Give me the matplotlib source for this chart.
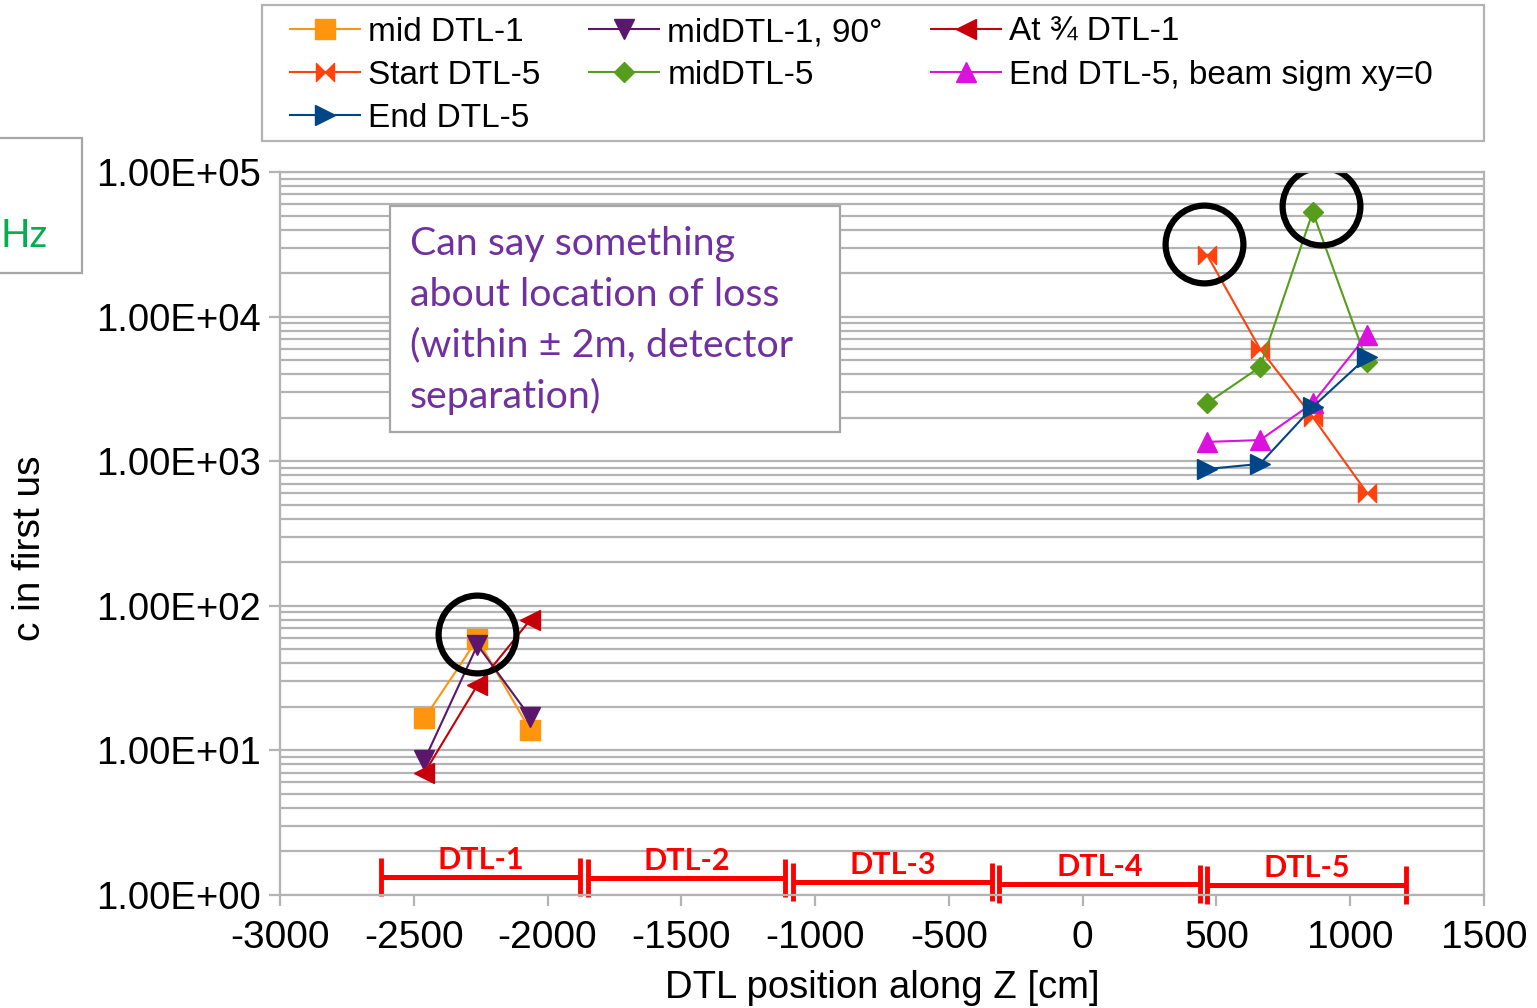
import matplotlib.pyplot as plt
import numpy as np
from matplotlib.path import Path
from matplotlib.patches import Rectangle

# positions along the DTL [cm]
z_dtl1 = [-2460, -2262, -2065]
z_dtl5 = [465, 663, 860, 1063]

# counts in first us
mid_dtl1 = [16.7, 58.9, 13.8]
mid_dtl1_90 = [8.6, 53.6, 17.0]
at34_dtl1 = [7.0, 28.3, 79.8]
start_dtl5 = [26700, 5970, 2020, 603]
mid_dtl5 = [2520, 4480, 52800, 4850]
end_dtl5_sig0 = [1360, 1400, 2520, 7470]
end_dtl5 = [883, 958, 2370, 5260]

# DTL tanks: (name, z start, z end, drawn height)
tanks = [
    ("DTL-1", -2622, -1879, 1.33),
    ("DTL-2", -1849, -1112, 1.31),
    ("DTL-3", -1082, -339, 1.23),
    ("DTL-4", -312, 439, 1.19),
    ("DTL-5", 465, 1209, 1.17),
]

# highlighted points
circled_z = [-2262, 452, 890]
circled_c = [63.8, 31800, 58200]

xticks = np.arange(-3000, 1501, 500)
yticks = [1, 10, 100, 1000, 10000, 100000]
ytick_labels = ["1.00E+00", "1.00E+01", "1.00E+02", "1.00E+03", "1.00E+04", "1.00E+05"]

plt.rcParams['font.family'] = ['Liberation Sans', 'DejaVu Sans']

# horizontal bow-tie marker
bowtie = Path([(-1, -1), (-1, 1), (0, 0), (1, 1), (1, -1), (0, 0), (-1, -1)],
              [1, 2, 2, 2, 2, 2, 79])

fig = plt.figure(figsize=(15.37, 10.08), dpi=100)
ax = fig.add_axes([280/1537, 1 - 895/1008, 1204/1537, 723/1008])

lines = []
lines += ax.plot(z_dtl1, mid_dtl1, color='#ff950e', marker='s', ms=14, lw=1.5, label='mid DTL-1')
lines += ax.plot(z_dtl1, mid_dtl1_90, color='#5b176b', marker='v', ms=15, lw=1.5, label='midDTL-1, 90°')
lines += ax.plot(z_dtl1, at34_dtl1, color='#c5000b', marker='<', ms=15, lw=1.5, label='At ¾ DTL-1')
lines += ax.plot(z_dtl5, start_dtl5, color='#ff420e', marker=bowtie, ms=13, lw=1.5, label='Start DTL-5')
lines += ax.plot(z_dtl5, mid_dtl5, color='#579d1c', marker='D', ms=10, lw=1.5, label='midDTL-5')
lines += ax.plot(z_dtl5, end_dtl5_sig0, color='#dd11dd', marker='^', ms=15, lw=1.5, label='End DTL-5, beam sigm xy=0')
lines += ax.plot(z_dtl5, end_dtl5, color='#004586', marker='>', ms=15, lw=1.5, label='End DTL-5')

ax.plot(circled_z, circled_c, ls='none', marker='o', ms=56, mfc='none', mec='black', mew=4.5)

for name, z0, z1, h in tanks:
    ax.plot([z0, z1], [h, h], color='#ff0000', lw=3.6, marker='|', ms=27, mew=3.5,
            solid_capstyle='butt', clip_on=False)
    ax.annotate(name, ((z0 + z1) / 2, h), xytext=(0, 12), textcoords='offset points',
                ha='center', va='center', color='#ff0000', fontsize=22, fontweight='bold',
                family=['Lato', 'DejaVu Sans'])

ax.set_yscale('log')
ax.set_xlim(-3000, 1500)
ax.set_ylim(1, 1e5)
ax.set_xticks(xticks)
ax.set_xticklabels([str(v) for v in xticks])
ax.set_yticks(yticks)
ax.set_yticklabels(ytick_labels)
ax.yaxis.set_minor_locator(plt.matplotlib.ticker.LogLocator(base=10, subs=np.arange(2, 10)))
ax.yaxis.set_minor_formatter(plt.matplotlib.ticker.NullFormatter())
ax.grid(axis='y', which='both', color='#b3b3b3', lw=1.6)
ax.set_axisbelow(True)
for s in ax.spines.values():
    s.set_color('#b3b3b3')
    s.set_linewidth(1.6)
ax.tick_params(axis='both', which='major', direction='out', length=8, width=1.6,
               color='#b3b3b3', labelsize=27.5, pad=6)
ax.tick_params(axis='x', labelsize=28, pad=10)
ax.tick_params(axis='y', which='minor', length=0)

ax.set_xlabel('DTL position along Z [cm]', fontsize=27.5, labelpad=10)
fig.text(30/1537, 1 - 548/1008, 'c in first us', rotation=90, fontsize=28,
         ha='center', va='center')

# legend frame, then the entries filled row by row
fig.add_artist(Rectangle((262/1537, 1 - 141/1008), 1222/1537, 136/1008, transform=fig.transFigure,
                         facecolor='white', edgecolor='#b3b3b3', lw=1.6))
order = [0, 3, 6, 1, 4, 2, 5]
leg = fig.legend([lines[i] for i in order], [lines[i].get_label() for i in order],
                 ncol=3, loc='upper left', bbox_to_anchor=(290/1537, 1 - 17/1008),
                 fontsize=24, frameon=False, handlelength=2.1, handletextpad=0.25,
                 labelspacing=0.36, borderpad=0, borderaxespad=0, columnspacing=1.45)

# comment box
fig.add_artist(Rectangle((390/1537, 1 - 432/1008), 450/1537, 226/1008, transform=fig.transFigure,
                         facecolor='white', edgecolor='#a6a6a6', lw=1.6))
fig.text(410/1537, 1 - 226/1008,
         'Can say something\nabout location of loss\n(within ± 2m, detector\nseparation)',
         color='#7030a0', fontsize=28.4, va='top', ha='left', linespacing=1.5,
         family=['Lato', 'DejaVu Sans'])

# partial unit box at the left edge
fig.add_artist(Rectangle((-10/1537, 1 - 273/1008), 92/1537, 135/1008, transform=fig.transFigure,
                         facecolor='white', edgecolor='#a6a6a6', lw=1.6))
fig.text(0, 1 - 236/1008, 'Hz', color='#00b050', fontsize=28, va='center', ha='left',
         family=['Lato', 'DejaVu Sans'])

fig.savefig('out.png', dpi=100)
